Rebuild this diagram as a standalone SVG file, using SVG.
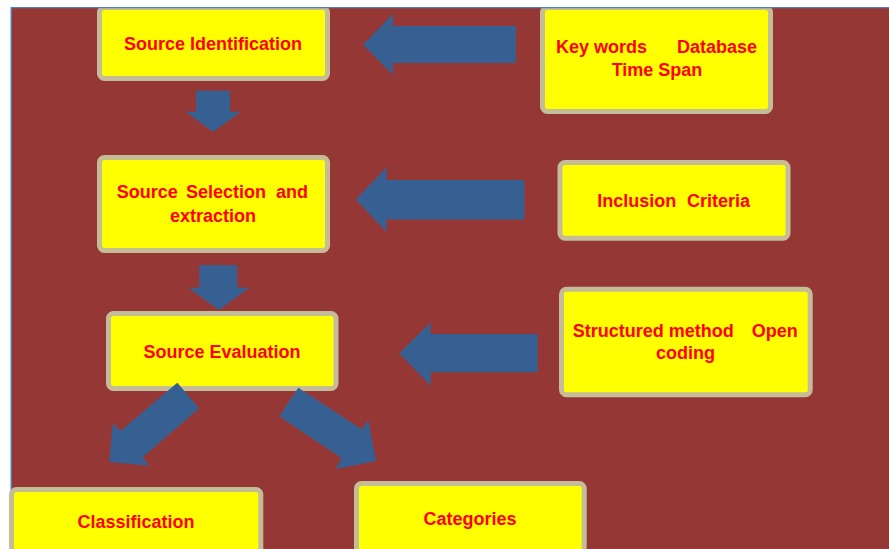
<svg xmlns="http://www.w3.org/2000/svg" width="889" height="549" viewBox="0 0 889 549">
<style>
.box{fill:#FFFF00;stroke:#C4BD97;stroke-width:5}
.t{font-family:"Liberation Sans",Arial,sans-serif;font-weight:bold;font-size:18px;fill:#FF0000}
.arr{fill:#376092}
</style>
<rect x="0" y="0" width="889" height="549" fill="#FFFFFF"/>
<rect x="11" y="7" width="878" height="542" fill="#953735"/>
<g id="node-source-identification">
<rect class="box" x="99.5" y="7.5" width="228" height="71" rx="5"/>
</g>
<g id="node-keywords">
<rect class="box" x="542.5" y="7.5" width="228" height="104" rx="5"/>
</g>
<rect x="0" y="0" width="889" height="7" fill="#FFFFFF"/>
<rect x="11" y="7" width="878" height="1.2" fill="#4F81BD"/>
<rect x="10.5" y="7" width="1.5" height="542" fill="#4F81BD"/>
<g id="labels-top">
<text class="t" x="213" y="50" text-anchor="middle">Source Identification</text>
<text class="t" y="53"><tspan x="556">Key words</tspan><tspan x="757" text-anchor="end">Database</tspan></text>
<text class="t" x="657" y="76" text-anchor="middle">Time Span</text>
</g>
<g id="node-source-selection">
<rect class="box" x="99.5" y="157.5" width="228" height="93" rx="5"/>
<text class="t" y="198"><tspan x="116.7">Source</tspan><tspan x="186">Selection</tspan><tspan x="308" text-anchor="end">and</tspan></text>
<text class="t" x="213" y="221.7" text-anchor="middle">extraction</text>
</g>
<g id="node-inclusion">
<rect class="box" x="560" y="162.5" width="228" height="75.7" rx="5"/>
<text class="t" y="207.3"><tspan x="597.3">Inclusion</tspan><tspan x="750" text-anchor="end">Criteria</tspan></text>
</g>
<g id="node-source-evaluation">
<rect class="box" x="108.5" y="313.5" width="227.5" height="75" rx="5"/>
<text class="t" x="222" y="358.3" text-anchor="middle">Source Evaluation</text>
</g>
<g id="node-structured">
<rect class="box" x="561.5" y="289.2" width="248.7" height="105.6" rx="5"/>
<text class="t" y="337.3"><tspan x="572.7">Structured method</tspan><tspan x="797.7" text-anchor="end">Open</tspan></text>
<text class="t" x="685.5" y="359" text-anchor="middle">coding</text>
</g>
<g id="node-classification">
<rect class="box" x="11.5" y="489.5" width="249.3" height="80" rx="5"/>
<text class="t" x="136" y="527.7" text-anchor="middle">Classification</text>
</g>
<g id="node-categories">
<rect class="box" x="356.5" y="483.5" width="227.7" height="80" rx="5"/>
<text class="t" x="470" y="525" text-anchor="middle">Categories</text>
</g>
<g id="connectors">
<polygon class="arr" points="516,26 393,26 393,14 363,44.5 393,75 393,63 516,63"/>
<polygon class="arr" points="524.5,180 386.6,180 386.6,167.3 355.8,199.5 386.6,232 386.6,219.5 524.5,219.5"/>
<polygon class="arr" points="537.7,334 430.7,334 430.7,322.3 399.3,353.3 430.7,385.7 430.7,372.3 537.7,372.3"/>
<polygon class="arr" points="196,90.7 230,90.7 230,111.7 241,111.7 213,132 185.7,111.7 196,111.7"/>
<polygon class="arr" points="199.3,265 237.3,265 237.3,287.7 249.3,287.7 219,310 188.3,287.7 199.3,287.7"/>
<polygon class="arr" points="177.3,382.7 199.3,408.3 142.7,457.3 149.3,465.7 109.3,462 112.7,423.3 120.7,430.7"/>
<polygon class="arr" points="298.3,387.7 361.7,429.3 368.3,420 376,461 335.5,469 341.7,458.3 279.3,416.3"/>
</g>
</svg>
